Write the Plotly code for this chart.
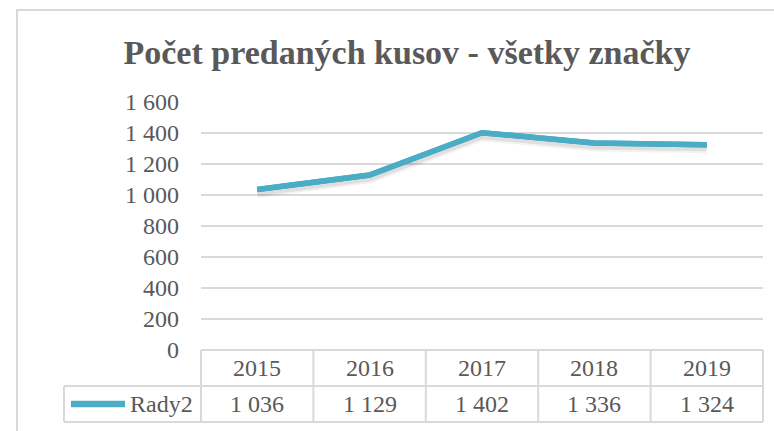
import plotly.graph_objects as go

# ---- data ----
title_text = "Počet predaných kusov - všetky značky"
years = ["2015", "2016", "2017", "2018", "2019"]
series_name = "Rady2"
values = [1036, 1129, 1402, 1336, 1324]
y_ticks = [0, 200, 400, 600, 800, 1000, 1200, 1400, 1600]

# ---- style / layout ----
W, H = 774, 431
L, R, T, B = 201, 11, 102, 81
PW, PH = W - L - R, H - T - B
LINE_COLOR = "#4BACC6"
TEXT = "#595959"
GRID = "#D9D9D9"
FONT = "Liberation Serif"
FS = 24


def px_x(px):
    return (px - L) / PW


def px_y(py):
    return (H - B - py) / PH


def fmt(v):
    return f"{v:,}".replace(",", " ")


fig = go.Figure()

# main line on the base axis
fig.add_trace(go.Scatter(
    x=years, y=values, mode="lines", name=series_name, yaxis="y",
    line=dict(color=LINE_COLOR, width=5.5), showlegend=False,
))
# soft shadow (same data, slightly offset overlay axis), two layers for blur
fig.add_trace(go.Scatter(
    x=years, y=values, mode="lines", yaxis="y2",
    line=dict(color="rgba(0,0,0,0.05)", width=11),
    hoverinfo="skip", showlegend=False,
))
fig.add_trace(go.Scatter(
    x=years, y=values, mode="lines", yaxis="y2",
    line=dict(color="rgba(0,0,0,0.08)", width=7),
    hoverinfo="skip", showlegend=False,
))
# main line again on top of the shadow
fig.add_trace(go.Scatter(
    x=years, y=values, mode="lines", name=series_name, yaxis="y3",
    line=dict(color=LINE_COLOR, width=5.5), showlegend=False,
))

shapes = []
# outer chart border
shapes.append(dict(type="rect", xref="paper", yref="paper",
                   x0=px_x(17), x1=px_x(W + 20), y0=px_y(10), y1=px_y(H + 20),
                   line=dict(color=GRID, width=2), fillcolor="rgba(0,0,0,0)", layer="below"))

# data table lines
top, mid, bot = px_y(350), px_y(386), px_y(422)
left_tab = px_x(64)
n = len(years)
shapes.append(dict(type="line", xref="paper", yref="paper", x0=0, x1=1, y0=top, y1=top,
                   line=dict(color=GRID, width=2)))
for yy in (mid, bot):
    shapes.append(dict(type="line", xref="paper", yref="paper", x0=left_tab, x1=1, y0=yy, y1=yy,
                       line=dict(color=GRID, width=2)))
for i in range(n + 1):
    xx = i / n
    shapes.append(dict(type="line", xref="paper", yref="paper", x0=xx, x1=xx, y0=top, y1=bot,
                       line=dict(color=GRID, width=2)))
shapes.append(dict(type="line", xref="paper", yref="paper", x0=left_tab, x1=left_tab, y0=mid, y1=bot,
                   line=dict(color=GRID, width=2)))
# legend key
shapes.append(dict(type="line", xref="paper", yref="paper", x0=px_x(71), x1=px_x(125),
                   y0=px_y(404), y1=px_y(404), line=dict(color=LINE_COLOR, width=6.5)))

annotations = []
for i, (yr, v) in enumerate(zip(years, values)):
    cx = (i + 0.5) / n
    annotations.append(dict(xref="paper", yref="paper", x=cx, y=px_y(368), text=yr, showarrow=False,
                            xanchor="center", yanchor="middle",
                            font=dict(family=FONT, size=FS, color=TEXT)))
    annotations.append(dict(xref="paper", yref="paper", x=cx, y=px_y(404), text=fmt(v), showarrow=False,
                            xanchor="center", yanchor="middle",
                            font=dict(family=FONT, size=FS, color=TEXT)))
annotations.append(dict(xref="paper", yref="paper", x=px_x(195), y=px_y(404), text=series_name,
                        showarrow=False, xanchor="right", yanchor="middle",
                        font=dict(family=FONT, size=FS, color=TEXT)))

shadow_shift = 3 * 1600 / PH

fig.update_layout(
    width=W, height=H, autosize=False,
    margin=dict(l=L, r=R, t=T, b=B, autoexpand=False),
    paper_bgcolor="white", plot_bgcolor="white",
    title=dict(text="<b>" + title_text + "</b>", x=407 / W, xref="container", xanchor="center",
               y=1 - 52 / H, yref="container", yanchor="middle",
               font=dict(family=FONT, size=34, color=TEXT)),
    xaxis=dict(type="category", range=[-0.5, n - 0.5], showticklabels=False, showgrid=False,
               zeroline=False, showline=False, ticks="", automargin=False),
    yaxis=dict(range=[0, 1600], tickvals=y_ticks, ticktext=[fmt(t) for t in y_ticks],
               showgrid=True, gridcolor=GRID, gridwidth=1.5, zeroline=False, showline=False,
               ticks="", ticklabelstandoff=21, automargin=False,
               tickfont=dict(family=FONT, size=FS, color=TEXT)),
    yaxis2=dict(range=[shadow_shift, 1600 + shadow_shift], overlaying="y",
                showgrid=False, zeroline=False, showticklabels=False, ticks=""),
    yaxis3=dict(range=[0, 1600], overlaying="y",
                showgrid=False, zeroline=False, showticklabels=False, ticks=""),
    shapes=shapes,
    annotations=annotations,
    showlegend=False,
)

fig.write_html(
    "out.html",
    config={"displayModeBar": False},
    post_script="document.body.style.margin='0';document.body.style.overflow='hidden';",
)
